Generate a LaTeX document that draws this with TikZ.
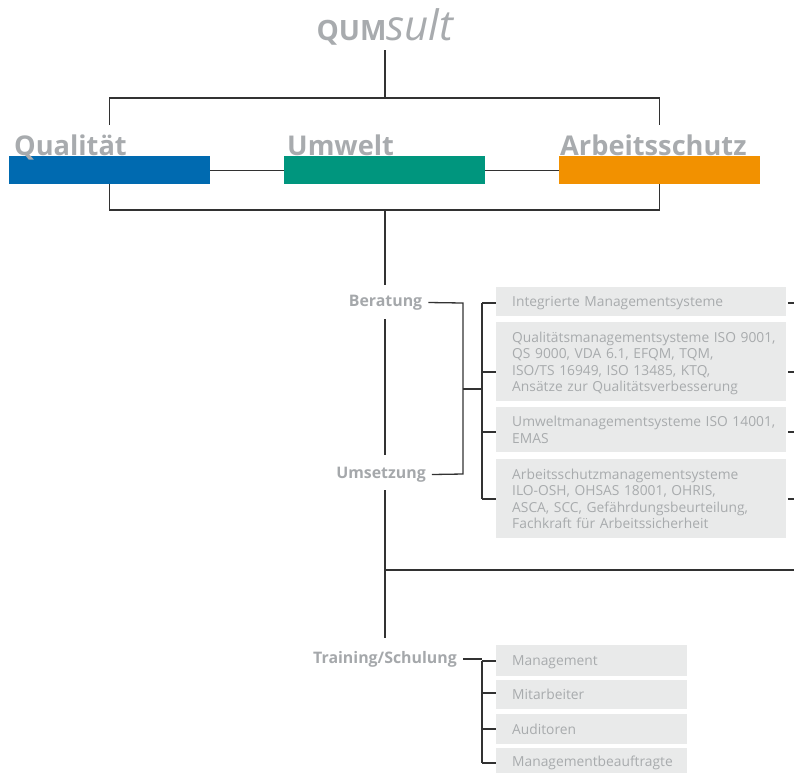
\documentclass[tikz,border=0pt]{standalone}
\usepackage{fontspec}
\setmainfont{Open Sans}
\definecolor{qblue}{RGB}{0,106,176}
\definecolor{ugreen}{RGB}{0,150,126}
\definecolor{aorange}{RGB}{242,145,0}
\definecolor{headgray}{RGB}{168,171,174}
\definecolor{labgray}{RGB}{165,168,171}
\definecolor{boxtext}{RGB}{168,171,173}
\definecolor{boxfill}{RGB}{233,234,234}
\definecolor{linegray}{RGB}{50,50,50}
\newcommand{\boxlines}[1]{\hspace*{16pt}\raisebox{-2pt}[\height][\depth]{\begin{tabular}{@{}l@{}}#1\end{tabular}}}
\begin{document}
\begin{tikzpicture}[x=1pt,y=-1pt,
  conn/.style={draw=linegray, line width=1.3pt},
  bar/.style={rectangle, minimum width=201pt, minimum height=28pt, inner sep=0pt, anchor=north west},
  head/.style={anchor=base west, inner sep=0pt, text=headgray, font=\fontsize{27.2}{27.2}\selectfont\bfseries},
  lab/.style={text=labgray, font=\fontsize{15.9}{15.9}\selectfont\bfseries, inner xsep=6pt, inner ysep=0pt},
  ibox/.style={rectangle, fill=boxfill, anchor=north west, inner xsep=0pt, inner ysep=0pt,
    text width=290pt, align=left, text=boxtext, font=\fontsize{13.8}{16.3}\selectfont},
  tbox/.style={ibox, text width=191pt},
]
\useasboundingbox (0,0) rectangle (794,772);
% title
\node[inner sep=0pt, anchor=base, text=headgray] (title) at (385,40)
  {{\fontsize{28}{28}\selectfont\bfseries QUM}{\fontsize{42}{42}\selectfont\itshape sult}};
\coordinate (t0) at (385,50);
\coordinate (tj) at (385,98);
\coordinate (ql) at (109.5,125);
\coordinate (ar) at (659.5,125);
\draw[conn] (t0) -- (tj);
\draw[conn] (ql) |- (tj) -| (ar);
% bars
\node[bar, fill=qblue] (qbar) at (9,156) {};
\node[bar, fill=ugreen] (ubar) at (284,156) {};
\node[bar, fill=aorange] (abar) at (559,156) {};
\node[head] (qhead) at (14,155.5) {Qualität};
\node[head] (uhead) at (287,155.5) {Umwelt};
\node[head] (ahead) at (560,155.5) {Arbeitsschutz};
\draw[conn] (qbar.east) -- (ubar.west);
\draw[conn] (ubar.east) -- (abar.west);
\coordinate (bj) at (385,210);
\draw[conn] (qbar.south) |- (bj) -| (abar.south);
% trunk labels
\node[lab] (ber) at (385.5,302.5) {Beratung};
\node[lab] (ums) at (381,474.5) {Umsetzung};
\node[lab] (trn) at (385,659) {Training/Schulung};
\coordinate (tr1) at (385,285);
\coordinate (tr2) at (385,319);
\coordinate (tr3) at (385,455);
\coordinate (tr4) at (385,490);
\coordinate (tr5) at (385,638);
\coordinate (hj) at (385,570);
\coordinate (hr) at (794,570);
\draw[conn] (bj) -- (tr1);
\draw[conn] (tr2) -- (tr3);
\draw[conn] (tr4) -- (tr5);
\draw[conn] (hj) -- (hr);
% consulting boxes
\node[ibox, minimum height=29pt] (b1) at (496,287) {\boxlines{Integrierte Managementsysteme}};
\node[ibox, minimum height=79pt] (b2) at (496,322) {\boxlines{Qualitätsmanagementsysteme ISO 9001,\\ QS 9000, VDA 6.1, EFQM, TQM,\\ ISO/TS 16949, ISO 13485, KTQ,\\ Ansätze zur Qualitätsverbesserung}};
\node[ibox, minimum height=45pt] (b3) at (496,407) {\boxlines{Umweltmanagementsysteme ISO 14001,\\ EMAS}};
\node[ibox, minimum height=79pt] (b4) at (496,459) {\boxlines{Arbeitsschutzmanagementsysteme\\ ILO-OSH, OHSAS 18001, OHRIS,\\ ASCA, SCC, Gefährdungsbeurteilung,\\ Fachkraft für Arbeitssicherheit}};
\coordinate (br1) at (463,303);
\coordinate (br2) at (463,474);
\coordinate (bm) at (463,389);
\coordinate (bx) at (482,389);
\coordinate (s1) at (482,303);
\coordinate (s2) at (482,372);
\coordinate (s3) at (482,432);
\coordinate (s4) at (482,499);
\draw[conn] (ber.east) -- (br1) -- (br2) -- (ums.east);
\draw[conn] (bm) -- (bx);
\draw[conn] (s1) -- (s4);
\draw[conn] (s1) -- (s1 -| b1.west);
\draw[conn] (s2) -- (s2 -| b2.west);
\draw[conn] (s3) -- (s3 -| b3.west);
\draw[conn] (s4) -- (s4 -| b4.west);
\coordinate (r1) at (794,303);
\coordinate (r2) at (794,372);
\coordinate (r3) at (794,432);
\coordinate (r4) at (794,499);
\draw[conn] ([xshift=1.5pt]b1.east |- r1) -- (r1);
\draw[conn] ([xshift=1.5pt]b2.east |- r2) -- (r2);
\draw[conn] ([xshift=1.5pt]b3.east |- r3) -- (r3);
\draw[conn] ([xshift=1.5pt]b4.east |- r4) -- (r4);
% training boxes
\node[tbox, minimum height=31pt] (c1) at (496,645) {\boxlines{Management}};
\node[tbox, minimum height=29pt] (c2) at (496,680) {\boxlines{Mitarbeiter}};
\node[tbox, minimum height=30pt] (c3) at (496,714) {\boxlines{Auditoren}};
\node[tbox, minimum height=26pt] (c4) at (496,748) {\boxlines{Managementbeauftragte}};
\coordinate (u1) at (482,661);
\coordinate (u2) at (482,693);
\coordinate (u3) at (482,729);
\coordinate (u4) at (482,763);
\draw[conn] (trn.east) -- (trn.east -| u1);
\draw[conn] (u1) -- (u4);
\draw[conn] (u1) -- (u1 -| c1.west);
\draw[conn] (u2) -- (u2 -| c2.west);
\draw[conn] (u3) -- (u3 -| c3.west);
\draw[conn] (u4) -- (u4 -| c4.west);
\end{tikzpicture}
\end{document}
